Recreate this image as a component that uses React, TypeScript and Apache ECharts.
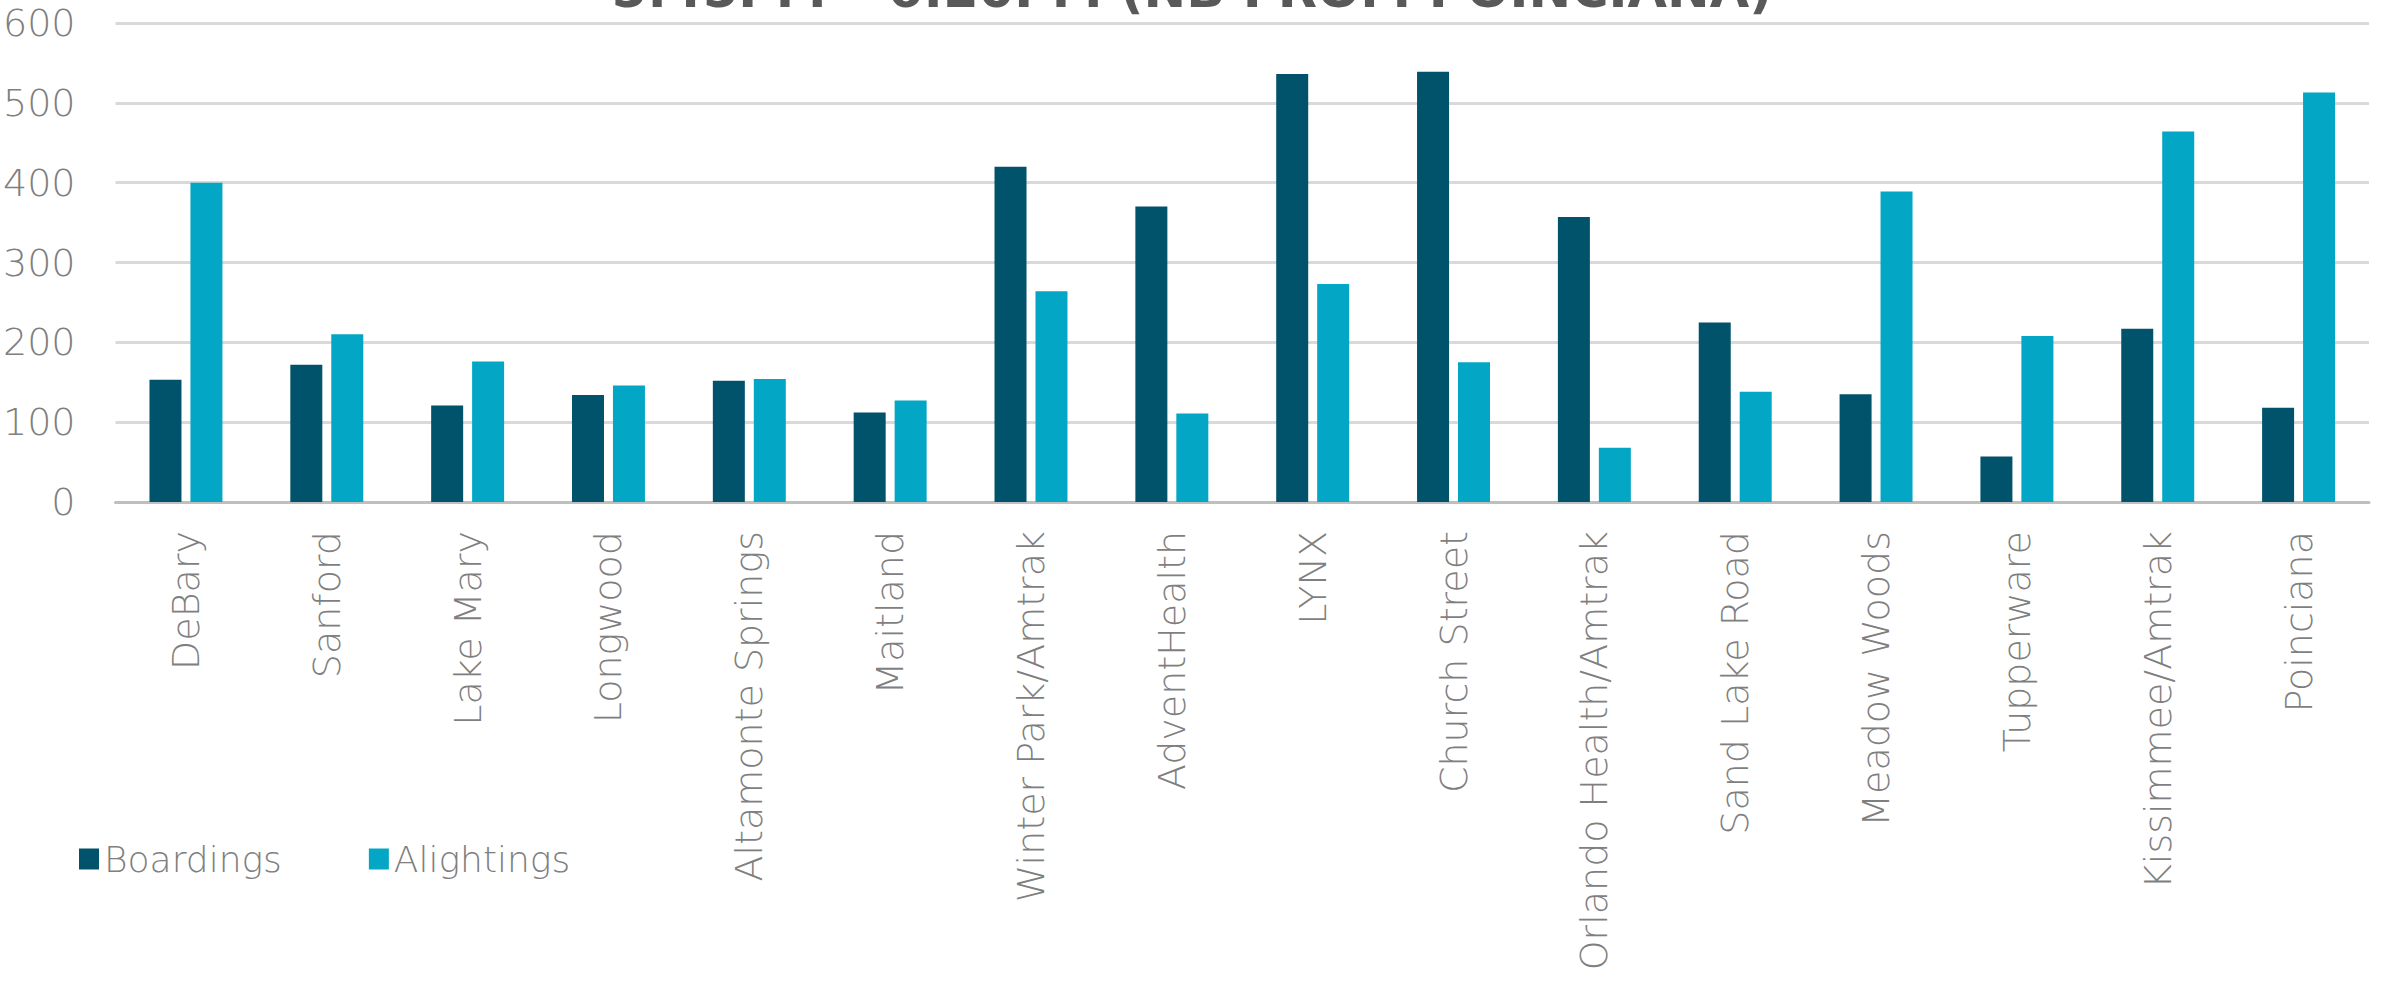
import React, { useEffect, useRef } from "react";
import * as echarts from "echarts";

const stations = [
  "DeBary",
  "Sanford",
  "Lake Mary",
  "Longwood",
  "Altamonte Springs",
  "Maitland",
  "Winter Park/Amtrak",
  "AdventHealth",
  "LYNX",
  "Church Street",
  "Orlando Health/Amtrak",
  "Sand Lake Road",
  "Meadow Woods",
  "Tupperware",
  "Kissimmee/Amtrak",
  "Poinciana",
];

const boardings = [153, 172, 121, 134, 152, 112, 420, 370, 536, 539, 357, 225, 135, 57, 217, 118];
const alightings = [400, 210, 176, 146, 154, 127, 264, 111, 273, 175, 68, 138, 389, 208, 464, 513];

const titleText = "5:45PM – 6:20PM (NB FROM POINCIANA)";
const yMin = 0;
const yMax = 600;
const yInterval = 100;

const FONT = "'DejaVu Sans', sans-serif";
const GREY = "#7f7f7f";

export default function App() {
  const ref = useRef<HTMLDivElement>(null);

  useEffect(() => {
    if (!ref.current) return;
    const chart = echarts.init(ref.current, null, { renderer: "svg" });
    chart.setOption({
      animation: false,
      backgroundColor: "#ffffff",
      textStyle: { fontFamily: FONT },
      graphic: [
        {
          type: "text",
          left: "center",
          top: -36,
          style: {
            text: titleText,
            font: `bold 51px ${FONT}`,
            fill: "#595959",
          },
        },
      ],
      legend: {
        left: 74,
        top: 836,
        itemWidth: 20,
        itemHeight: 21,
        itemGap: 87,
        icon: "rect",
        textStyle: { color: GREY, fontSize: 36, fontFamily: FONT, fontWeight: 200 },
        data: ["Boardings", "Alightings"],
      },
      grid: { left: 114, right: 15, top: 23, bottom: 481, containLabel: false },
      xAxis: {
        type: "category",
        data: stations,
        axisLine: { lineStyle: { color: "#bfbfbf", width: 3 } },
        axisTick: { show: false },
        axisLabel: {
          rotate: 90,
          interval: 0,
          margin: 29,
          color: GREY,
          fontSize: 38,
          fontFamily: FONT,
          fontWeight: 200,
        },
      },
      yAxis: {
        type: "value",
        min: yMin,
        max: yMax,
        interval: yInterval,
        axisLine: { show: false },
        axisTick: { show: false },
        splitLine: { lineStyle: { color: "#d9d9d9", width: 3 } },
        axisLabel: {
          color: GREY,
          fontSize: 38,
          margin: 40,
          fontFamily: FONT,
          fontWeight: 200,
        },
      },
      series: [
        {
          name: "Boardings",
          type: "bar",
          data: boardings,
          barWidth: 32,
          barGap: "28%",
          itemStyle: { color: "#00536a" },
        },
        {
          name: "Alightings",
          type: "bar",
          data: alightings,
          barWidth: 32,
          itemStyle: { color: "#03a6c4" },
        },
      ],
    });
    return () => chart.dispose();
  }, []);

  return (
    <div
      ref={ref}
      style={{ position: "fixed", left: 0, top: 0, width: 2384, height: 983, background: "#fff" }}
    />
  );
}
